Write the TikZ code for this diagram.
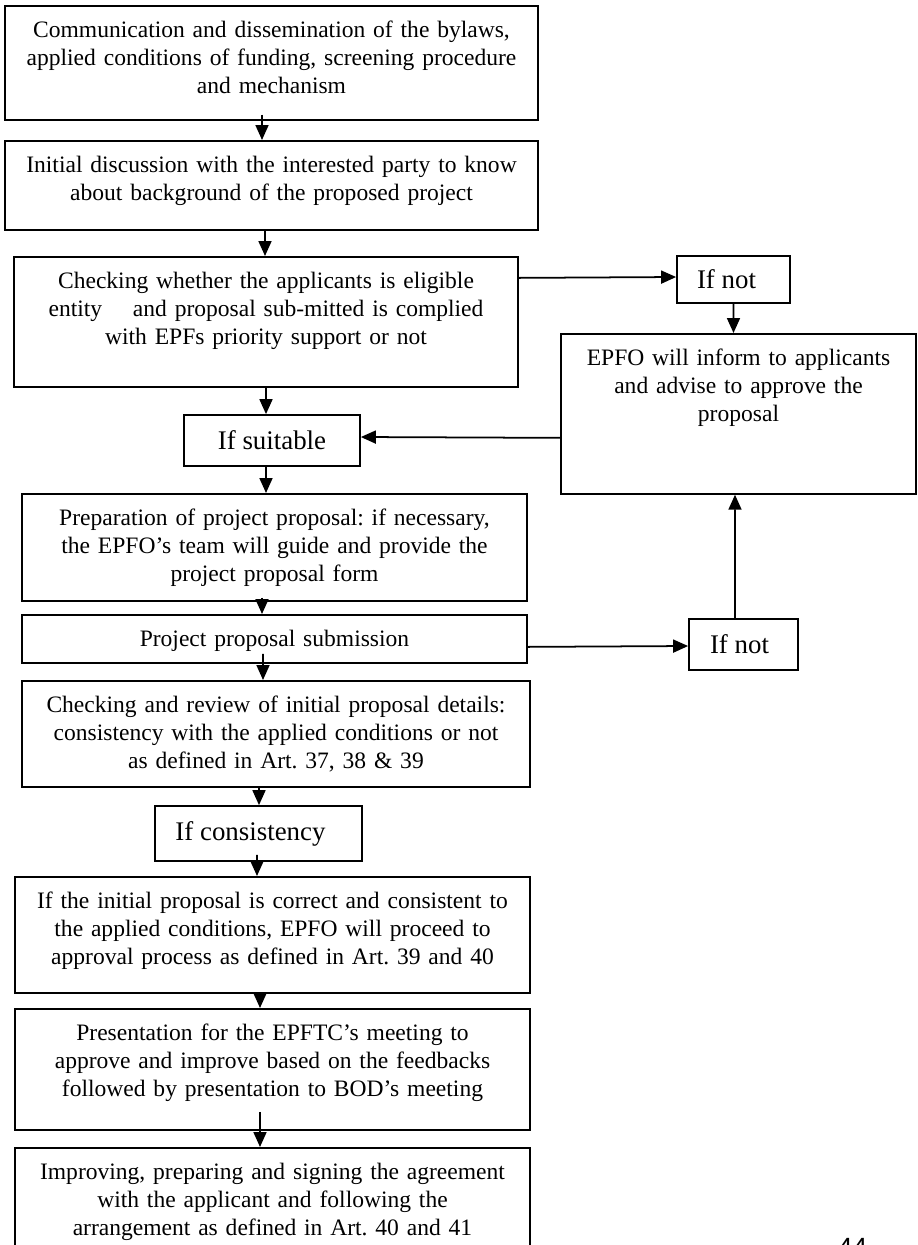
\documentclass[tikz,border=0pt]{standalone}
\usepackage{fontspec}
\setmainfont{Liberation Serif}
\newfontfamily\pagefont{Liberation Sans}
\usetikzlibrary{arrows.meta,positioning,calc}
\frenchspacing

\begin{document}
\begin{tikzpicture}[x=0.02cm, y=-0.02cm,
    stepbox/.style={draw, line width=1pt, inner xsep=0pt, inner ysep=0pt, align=center,
        font=\fontsize{13.4}{15.9}\selectfont, text height=0.64cm, anchor=north},
    choicebox/.style={draw, line width=1pt, inner sep=0pt,
        font=\fontsize{15.3}{18}\selectfont},
    flow/.style={line width=1pt, -{Triangle[length=0.3cm,width=0.26cm]}}]
    \useasboundingbox (0,0) rectangle (917,1245);

    % --- main column ---
    \node[stepbox, text width=10.66cm, text depth=1.64cm] (comm) at (271.5,5)
        {Communication and dissemination of the bylaws,\\ applied conditions of funding, screening procedure\\ and mechanism};
    \node[stepbox, text width=10.66cm, text depth=1.14cm] (disc) at (271.5,140)
        {Initial discussion with the interested party to know\\ about background of the proposed project};
    \node[stepbox, text width=10.08cm, text depth=1.96cm] (elig) at (266,256)
        {Checking whether the applicants is eligible\\ entity \hspace{0.3cm} and proposal sub-mitted is complied\\ with EPFs priority support or not};
    \node[choicebox, minimum width=3.52cm, minimum height=1.02cm] (suitable) at (272,440.5) {If suitable};
    \node[stepbox, text width=10.1cm, text depth=1.50cm] (prep) at (274.5,493)
        {Preparation of project proposal: if necessary,\\ the EPFO's team will guide and provide the\\ project proposal form};
    \node[stepbox, text width=10.1cm, text depth=0.32cm] (submit) at (274.5,614) {Project proposal submission};
    \node[stepbox, text width=10.16cm, text depth=1.48cm] (review) at (276,680)
        {Checking and review of initial proposal details:\\ consistency with the applied conditions or not\\ as defined in Art. 37, 38 \& 39};
    \node[choicebox, minimum width=4.14cm, minimum height=1.1cm] (consist) at (258.5,833.5) {If consistency\hspace*{0.32cm}};
    \node[stepbox, text width=10.3cm, text depth=1.68cm] (approve) at (272.5,876)
        {If the initial proposal is correct and consistent to\\ the applied conditions, EPFO will proceed to\\ approval process as defined in Art. 39 and 40};
    \node[stepbox, text width=10.3cm, text depth=1.78cm] (present) at (272.5,1008)
        {Presentation for the EPFTC's meeting to\\ approve and improve based on the feedbacks\\ followed by presentation to BOD's meeting};
    \node[stepbox, text width=10.3cm, text depth=2.42cm] (agree) at (272.5,1147)
        {Improving, preparing and signing the agreement\\ with the applicant and following the\\ arrangement as defined in Art. 40 and 41};

    % --- side branch ---
    \node[choicebox, minimum width=2.26cm, minimum height=0.94cm] (ifnotA) at (733.5,279.5) {If not\hspace*{0.28cm}};
    \node[stepbox, text width=7.1cm, text depth=2.56cm] (inform) at (738.5,333)
        {EPFO will inform to applicants\\ and advise to approve the\\ proposal};
    \node[choicebox, minimum width=2.18cm, minimum height=1.02cm] (ifnotB) at (743.5,644.5) {If not\hspace*{0.16cm}};

    % page number
    \node[font=\pagefont\fontsize{15}{18}\selectfont, anchor=base] (pagenum) at (852.5,1256) {44};

    % --- arrows down the column ---
    \draw[flow] ([xshift=-0.19cm,yshift=0.12cm]comm.south) -- ([xshift=-0.19cm]disc.north);
    \draw[flow] ([xshift=-0.13cm]disc.south) -- ([xshift=-0.02cm]elig.north);
    \draw[flow] (elig.south) -- ([xshift=-0.12cm]suitable.north);
    \draw[flow] ([xshift=-0.12cm]suitable.south) -- ([xshift=-0.17cm]prep.north);
    \draw[flow] ([xshift=-0.25cm,yshift=0.08cm]prep.south) -- ([xshift=-0.25cm]submit.north);
    \draw[flow] ([xshift=-0.23cm,yshift=0.2cm]submit.south) -- ([xshift=-0.26cm]review.north);
    \draw[flow] ([xshift=-0.34cm]review.south) -- ([xshift=0.01cm]consist.north);
    \draw[flow] ([xshift=-0.03cm,yshift=0.14cm]consist.south) -- ([xshift=-0.31cm]approve.north);
    \draw[flow] ([xshift=-0.25cm]approve.south) -- ([xshift=-0.25cm]present.north);
    \draw[flow] ([xshift=-0.25cm,yshift=0.38cm]present.south) -- ([xshift=-0.25cm]agree.north);

    % --- arrows of the side branch ---
    \draw[flow] ([yshift=0.88cm]elig.east) -- ([yshift=0.05cm]ifnotA.west);
    \draw[flow] (ifnotA.south) -- ([xshift=-0.1cm]inform.north);
    \draw[flow] ([yshift=-0.48cm]inform.west) -- ([yshift=0.07cm]suitable.east);
    \draw[flow] ([yshift=-0.16cm]submit.east) -- ([yshift=-0.03cm]ifnotB.west);
    \draw[flow] ([xshift=-0.17cm]ifnotB.north) -- ([xshift=-0.07cm]inform.south);
\end{tikzpicture}
\end{document}
